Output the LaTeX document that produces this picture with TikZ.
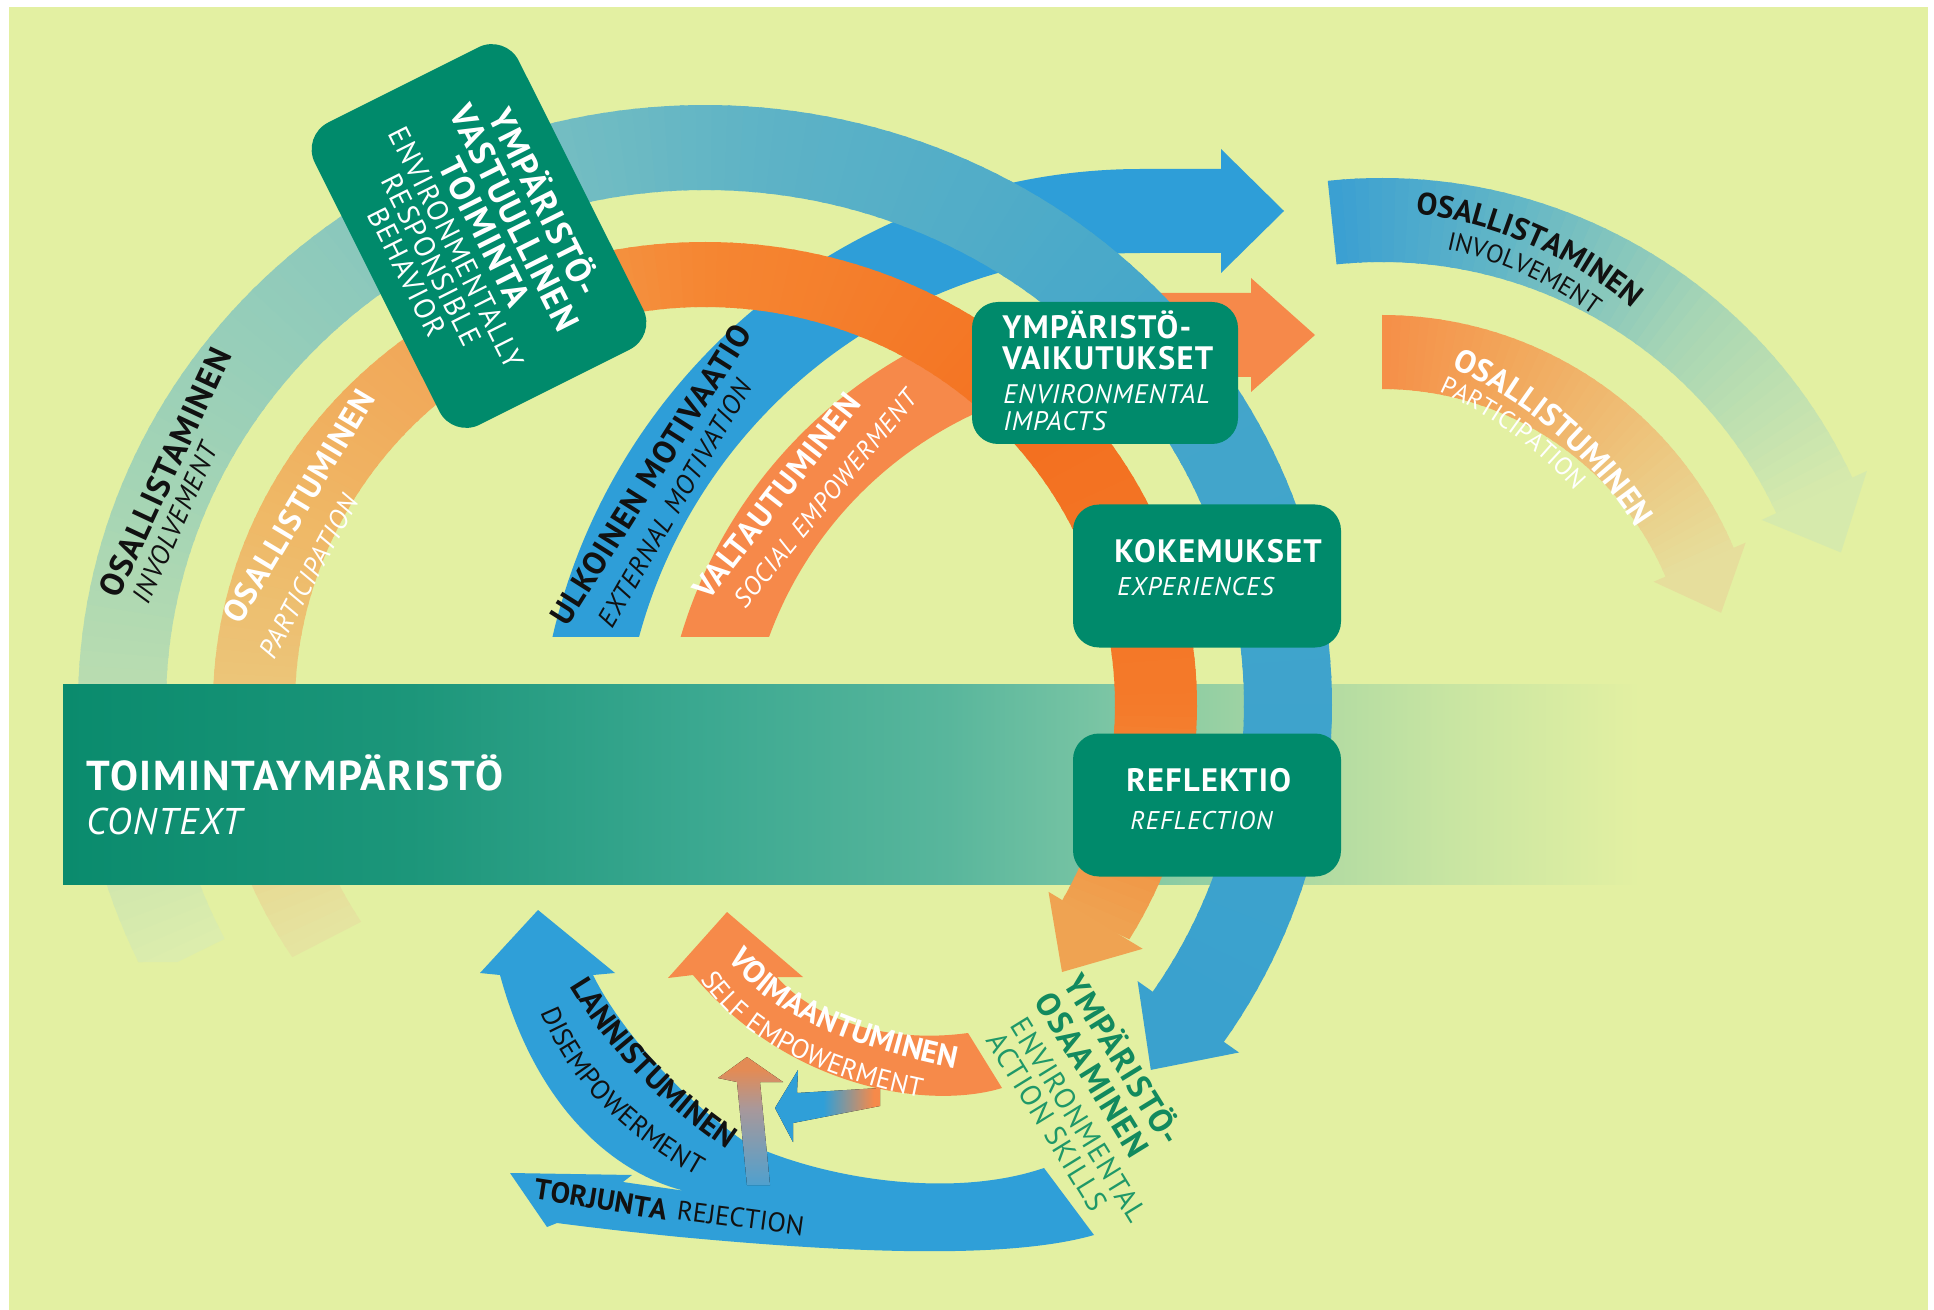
\documentclass[tikz,border=0pt]{standalone}
\usepackage{fontspec}
\setmainfont{PT Sans}[LetterSpace=4]
\usetikzlibrary{decorations.text}

\definecolor{bg}{HTML}{E3F0A2}
\definecolor{boxg}{HTML}{008A6B}
\definecolor{ulk}{HTML}{2E9ED8}
\definecolor{blu}{HTML}{2F9FD8}
\definecolor{val}{HTML}{F6894A}
\definecolor{vor}{HTML}{F68A4A}
\definecolor{txtk}{HTML}{111111}
\definecolor{osg}{HTML}{128A5E}
\definecolor{osg2}{HTML}{1F9868}
\definecolor{oA}{HTML}{DDEDAD}
\definecolor{oB}{HTML}{C4E1AE}
\definecolor{oC}{HTML}{A6D5B4}
\definecolor{oD}{HTML}{86C6BE}
\definecolor{oE}{HTML}{5EB3C6}
\definecolor{oF}{HTML}{44A6CA}
\definecolor{oG}{HTML}{3AA1CE}
\definecolor{pA}{HTML}{E5E5A1}
\definecolor{pB}{HTML}{EACB82}
\definecolor{pC}{HTML}{EFB866}
\definecolor{pD}{HTML}{F2A355}
\definecolor{pE}{HTML}{F58632}
\definecolor{pF}{HTML}{F37020}
\definecolor{pG}{HTML}{F47A2A}
\definecolor{pH}{HTML}{EFA352}
\definecolor{rA}{HTML}{3A9FD2}
\definecolor{rB}{HTML}{62B6C6}
\definecolor{rC}{HTML}{A8D6B4}
\definecolor{rD}{HTML}{D6EAAC}
\definecolor{sA}{HTML}{F58F48}
\definecolor{sB}{HTML}{F2A65A}
\definecolor{sC}{HTML}{EEC27A}
\definecolor{sD}{HTML}{E6DE9C}
\definecolor{bnA}{HTML}{0A8B6D}
\definecolor{bnB}{HTML}{1C967A}
\definecolor{bnC}{HTML}{3AA890}
\definecolor{bnD}{HTML}{58B69C}
\definecolor{bnE}{HTML}{7AC5A4}
\definecolor{bnF}{HTML}{B2DBA2}
\definecolor{bnG}{HTML}{C8E5A2}
\definecolor{vtop}{HTML}{E38B55}
\definecolor{vmid}{HTML}{A9989A}
\definecolor{vbot}{HTML}{4FA0CE}

\pgfdeclarehorizontalshading{bandsh}{100bp}{color(0bp)=(bnA); color(25bp)=(bnA); color(36bp)=(bnB); color(45bp)=(bnC); color(53bp)=(bnD); color(58bp)=(bnE); color(65bp)=(bnF); color(69bp)=(bnG); color(75bp)=(bg); color(100bp)=(bg)}
\pgfdeclareverticalshading{vsh}{100bp}{color(0bp)=(vbot); color(25bp)=(vbot); color(55bp)=(vmid); color(70bp)=(vtop); color(100bp)=(vtop)}
\pgfdeclarehorizontalshading{hsh}{100bp}{color(0bp)=(blu); color(48bp)=(blu); color(72bp)=(vor); color(100bp)=(vor)}

\newcommand\ringpart[8]{%
  \pgfmathtruncatemacro\rpN{max(1,ceil((#2-(#1))/1.5))}%
  \foreach \i in {1,...,\rpN}{%
    \pgfmathsetmacro\ta{#1+(#2-(#1))*(\i-1)/\rpN}%
    \pgfmathsetmacro\tb{#1+(#2-(#1))*\i/\rpN+0.4}%
    \pgfmathtruncatemacro\pc{100*(\i-0.5)/\rpN}%
    \colorlet{rpc}{#4!\pc!#3}%
    \fill[rpc] (\ta:#5 and #6) arc[start angle=\ta, end angle=\tb, x radius=#5, y radius=#6] -- (\tb:#7 and #8) arc[start angle=\tb, end angle=\ta, x radius=#7, y radius=#8] -- cycle;
  }%
}
\newcommand\outerring{%
\begin{scope}[shift={(705,705)}]
\ringpart{153}{172}{oA}{oB}{627}{600}{539}{515}%
\ringpart{172}{200}{oB}{oC}{627}{600}{539}{515}%
\ringpart{200}{240}{oC}{oD}{627}{600}{539}{515}%
\ringpart{240}{275}{oD}{oE}{627}{600}{539}{515}%
\ringpart{275}{320}{oE}{oF}{627}{600}{539}{515}%
\ringpart{320}{394}{oF}{oG}{627}{600}{539}{515}%
\end{scope}}
\newcommand\orangering{%
\begin{scope}[shift={(705,705)}]
\ringpart{147}{172}{pA}{pB}{492}{463}{410}{398}%
\ringpart{172}{205}{pB}{pC}{492}{463}{410}{398}%
\ringpart{205}{240}{pC}{pD}{492}{463}{410}{398}%
\ringpart{240}{270}{pD}{pE}{492}{463}{410}{398}%
\ringpart{270}{320}{pE}{pF}{492}{463}{410}{398}%
\ringpart{320}{360}{pF}{pG}{492}{463}{410}{398}%
\ringpart{360}{390}{pG}{pH}{492}{463}{410}{398}%
\end{scope}}
\newcommand\rightrings{%
\begin{scope}[shift={(1382,697)}]
\ringpart{264}{285}{rA}{rB}{519}{519}{435}{435}%
\ringpart{285}{310}{rB}{rC}{519}{519}{435}{435}%
\ringpart{310}{335}{rC}{rD}{519}{519}{435}{435}%
\ringpart{270}{290}{sA}{sB}{382}{382}{308}{308}%
\ringpart{290}{314}{sB}{sC}{382}{382}{308}{308}%
\ringpart{314}{337}{sC}{sD}{382}{382}{308}{308}%
\end{scope}}
\newcommand\rgl[1]{{\fontsize{14.6}{14}\selectfont #1}}
\newcommand\rgo[1]{{\color{osg2}\fontsize{14.5}{14}\selectfont\hspace{4pt}#1}}

\begin{document}
\begin{tikzpicture}[x=0.5pt,y=-0.5pt,
  gbox/.style={fill=boxg, rounded corners=13pt, inner sep=0pt},
  btxt/.style={anchor=base west, inner sep=0pt, text=white, font=\bfseries\fontsize{16.2}{16}\selectfont},
  itxt/.style={anchor=base west, inner sep=0pt, text=white, font=\itshape\fontsize{12.8}{13}\selectfont},
  lbl/.style={text=txtk, inner sep=0pt}]
\useasboundingbox (0,0) rectangle (1934,1310);
\fill[white] (0,0) rectangle (1934,1310);
\fill[bg] (9,7) rectangle (1928,1310);

% inner arcs: external motivation, social empowerment
\begin{scope}
\clip (0,0) rectangle (1934,636);
\draw[ulk, line width=42pt] ([shift={(185:562)}]1141,773) arc[start angle=185, end angle=270, radius=562] -- (1222,211);
\draw[val, line width=42pt] ([shift={(190:438)}]1141,773) arc[start angle=190, end angle=270, radius=438] -- (1252,335);
\end{scope}
\fill[ulk] (1221,149) -- (1284,211) -- (1221,273) -- cycle;
\fill[val] (1251,278) -- (1315,335) -- (1251,392) -- cycle;

% right faded arcs
\rightrings
\fill[rD] (1866.9,470.9) -- (1840.9,552.5) -- (1761.7,519.9) -- cycle;
\fill[sD] (1745.6,542.7) -- (1721.1,612.8) -- (1653.6,581.7) -- cycle;

% main rings
\begin{scope}
\clip (0,0) -- (1934,0) -- (1934,1310) -- (700,1310) -- (700,962) -- (0,962) -- cycle;
\outerring
\orangering
\end{scope}
\fill[oG] (1239.0,1052.5) -- (1150.8,1069.9) -- (1137.6,981.1) -- cycle;
\fill[pH] (1142.7,948.8) -- (1062,972) -- (1048.5,891.8) -- cycle;

% context band
\fill[shading=bandsh] (63,684) rectangle (1640,884);
\begin{scope}
\clip (1000,684) rectangle (1400,884);
\outerring
\orangering
\end{scope}

% boxes
\node[gbox, minimum width=133pt, minimum height=71pt] (vaik) at (1105,373) {};
\node[btxt] (vaik1) at (1002,339) {YMPÄRISTÖ-};
\node[btxt] (vaik2) at (1002,370) {VAIKUTUKSET};
\node[itxt, font=\itshape\fontsize{13.4}{13}\selectfont] (vaik3) at (1003,404) {ENVIRONMENTAL};
\node[itxt, font=\itshape\fontsize{13.4}{13}\selectfont] (vaik4) at (1003,431) {IMPACTS};

\node[gbox, minimum width=134pt, minimum height=71.5pt] (koke) at (1207,576) {};
\node[btxt] (koke1) at (1114,562) {KOKEMUKSET};
\node[itxt] (koke2) at (1117,596) {EXPERIENCES};

\node[gbox, minimum width=134pt, minimum height=71.5pt] (refl) at (1207,805) {};
\node[btxt] (refl1) at (1126,791) {REFLEKTIO};
\node[itxt] (refl2) at (1130,829) {REFLECTION};

\node[gbox, text=white, align=center, rotate=-63.4, minimum width=169pt, minimum height=114pt, rounded corners=15pt, font=\fontsize{17.5}{16.6}\selectfont] (erb) at (479,236)
  {\textbf{YMPÄRISTÖ-}\\\textbf{VASTUULLINEN}\\\textbf{TOIMINTA}\\[-1.5pt]\rgl{ENVIRONMENTALLY}\\[-2.8pt]\rgl{RESPONSIBLE}\\[-2.8pt]\rgl{BEHAVIOR}};

% bottom blue: disempowerment + rejection
\fill[blu] (538,910) -- (615,973) -- (593,975)
  .. controls (615,1020) and (670,1090) .. (745,1142)
  .. controls (820,1178) and (950,1200) .. (1044,1168)
  -- (1094,1235)
  .. controls (1000,1262) and (820,1250) .. (680,1237)
  .. controls (620,1231) and (580,1226) .. (557,1223)
  -- (547,1227) -- (510,1173) -- (632,1175) -- (623,1182)
  .. controls (650,1186) and (680,1190) .. (705,1194)
  .. controls (650,1190) and (545,1140) .. (500,975)
  -- (480,973) -- cycle;
% self empowerment
\fill[vor] (727,912) -- (803,977) -- (777,977)
  .. controls (810,1015) and (880,1045) .. (968,1033)
  -- (1002,1088)
  .. controls (930,1110) and (790,1090) .. (693,975)
  -- (668,978) -- cycle;
% small arrows
\fill[shading=vsh] (747,1057) -- (783,1082) -- (760,1082) -- (770,1185) -- (747,1185) -- (737,1082) -- (718,1078) -- cycle;
\fill[shading=hsh] (775,1108) -- (798,1070) -- (797,1093) -- (880,1088) -- (880,1106) -- (793,1123) -- (793,1142) -- cycle;

% context text
\node[anchor=base west, text=white, inner sep=0pt, font=\bfseries\fontsize{20.9}{21}\selectfont] (ctx) at (86,790) {TOIMINTAYMPÄRISTÖ};
\node[anchor=base west, text=white, inner sep=0pt, font=\itshape\fontsize{18.6}{19}\selectfont] (ctx2) at (86,834) {CONTEXT};

% left arc labels
\node[lbl, anchor=base west, rotate=65, font=\bfseries\fontsize{16.5}{16.5}\selectfont] (l1) at (118,600) {OSALLISTAMINEN};
\node[lbl, anchor=base west, rotate=66, font=\itshape\fontsize{13.5}{13.5}\selectfont] (l1b) at (148,606) {INVOLVEMENT};
\node[lbl, anchor=base west, rotate=59, text=white, font=\bfseries\fontsize{16}{16}\selectfont] (l2) at (240,626) {OSALLISTUMINEN};
\node[lbl, anchor=base west, rotate=62, text=white, font=\itshape\fontsize{13.5}{13.5}\selectfont] (l2b) at (274,661) {PARTICIPATION};
\node[lbl, anchor=base west, rotate=57.7, font=\bfseries\fontsize{16}{16}\selectfont] (l3) at (567,628) {ULKOINEN MOTIVAATIO};
\node[lbl, anchor=base west, rotate=60, font=\itshape\fontsize{13.3}{13.3}\selectfont] (l3b) at (612,630) {EXTERNAL MOTIVATION};
\node[lbl, anchor=base west, rotate=52, text=white, font=\bfseries\fontsize{16}{16}\selectfont] (l4) at (708,602) {VALTAUTUMINEN};
\node[lbl, anchor=base west, rotate=50.5, text=white, font=\itshape\fontsize{12.8}{12.8}\selectfont] (l4b) at (745,610) {SOCIAL EMPOWERMENT};

% right curved labels
\path[decorate, decoration={text along path, text align=center, text color=txtk,
  text={|\bfseries\fontsize{15.5}{15.5}\selectfont|OSALLISTAMINEN}}]
  ([shift={(257:408)}]1368,619) arc[start angle=257, end angle=330, radius=408];
\path[decorate, decoration={text along path, text align=center, text color=txtk,
  text={|\fontsize{12.7}{12.7}\selectfont|INVOLVEMENT}}]
  ([shift={(258:378)}]1368,619) arc[start angle=258, end angle=330.5, radius=378];
\path[decorate, decoration={text along path, text align=center, text color=white,
  text={|\bfseries\fontsize{16}{16}\selectfont|OSALLISTUMINEN}}]
  ([shift={(276:425)}]1277,755) arc[start angle=276, end angle=346, radius=425];
\path[decorate, decoration={text along path, text align=center, text color=white,
  text={|\fontsize{12.5}{12.5}\selectfont|PARTICIPATION}}]
  ([shift={(271:398)}]1277,755) arc[start angle=271, end angle=341.4, radius=398];

% bottom curved labels
\path[decorate, decoration={text along path, text color=txtk,
  text={|\bfseries\fontsize{15.5}{15.5}\selectfont|LANNISTUMINEN}}]
  (570,986) .. controls (602,1038) and (652,1108) .. (772,1178);
\path[decorate, decoration={text along path, text color=txtk,
  text={|\fontsize{13.5}{13.5}\selectfont|DISEMPOWERMENT}}]
  (541,1012) .. controls (568,1077) and (618,1142) .. (748,1202);
\path[decorate, decoration={text along path, text color=white,
  text={|\bfseries\fontsize{15.5}{15.5}\selectfont|VOIMAANTUMINEN}}]
  (728,958) .. controls (760,1005) and (830,1045) .. (975,1072);
\path[decorate, decoration={text along path, text color=white,
  text={|\fontsize{13.5}{13.5}\selectfont|SELF EMPOWERMENT}}]
  (701,979) .. controls (730,1027) and (800,1077) .. (945,1102);
\path[decorate, decoration={text along path, text color=txtk,
  text={|\bfseries\fontsize{14.5}{14.5}\selectfont|TORJUNTA}}]
  (533,1199) .. controls (580,1206) and (630,1215) .. (700,1226);
\path[decorate, decoration={text along path, text color=txtk,
  text={|\fontsize{13.5}{13.5}\selectfont|REJECTION}}]
  (676,1219) .. controls (720,1225) and (770,1231) .. (830,1240);

% environmental action skills
\node[inner sep=0pt, rotate=-58.4, align=left, text=osg, font=\fontsize{16.5}{17}\selectfont] (osaa) at (1097,1104)
  {\textbf{YMPÄRISTÖ-}\\\textbf{OSAAMINEN}\\[0pt]\rgo{ENVIRONMENTAL}\\[-3pt]\rgo{ACTION SKILLS}};
\end{tikzpicture}
\end{document}
